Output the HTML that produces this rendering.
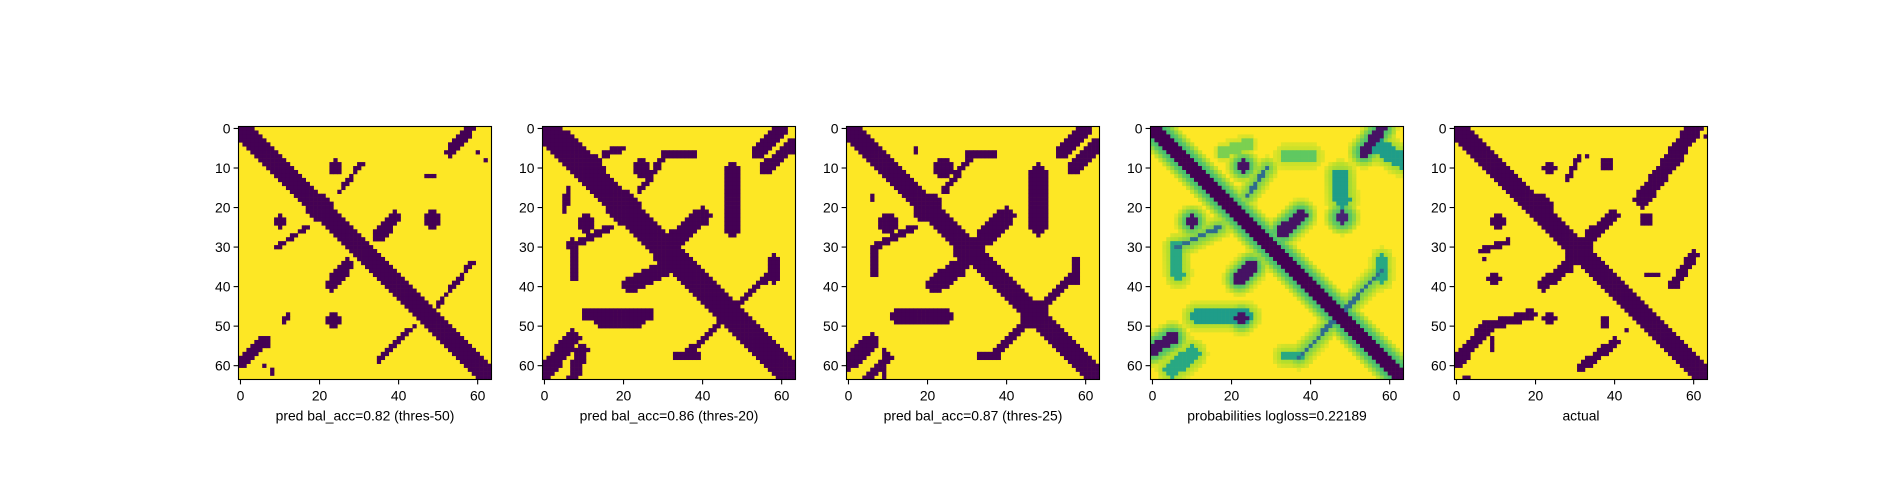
<!DOCTYPE html>
<html><head><meta charset="utf-8"><style>
html,body{margin:0;padding:0;background:#fff;}
svg{display:block;font-family:"Liberation Sans","DejaVu Sans",sans-serif;}
</style></head><body>
<svg id="fig" width="1900" height="500" viewBox="0 0 1900 500" xmlns="http://www.w3.org/2000/svg">
<rect x="0" y="0" width="1900" height="500" fill="#fff"/>
</svg>
<script>
// ---- data (cell coordinates: row, col) ----
const titles = ["pred bal_acc=0.82 (thres-50)", "pred bal_acc=0.86 (thres-20)", "pred bal_acc=0.87 (thres-25)", "probabilities logloss=0.22189", "actual"];
const xTicks = [0, 20, 40, 60];
const yTicks = [0, 10, 20, 30, 40, 50, 60];
const gridN = 64;
// binary features: [r0, c0, r1, c1, halfWidth]
const feat1 = [
 [0,0,63,63,2.3],[20,20,20,20,3.4],
 [0,58,6,53,1.3],[6,60,6,60,0.5],[8,62,8,62,0.5],
 [9.7,24,9.7,24,1.8],[16,25,9,30.5,0.6],[12,47,12,49,0.5],
 [27,35,22.5,39,1.6],[23,48.5,23,48.5,2.1],[23.5,10,23.5,10,1.7],
 [30,9.5,25,16.5,0.6],[39.5,23,34.5,27,1.7],[44.5,50,34,58.5,0.6],
 [48.5,23.5,48.5,23.5,2.0],[47,12,49,11,0.5],[49.5,44.5,58.5,35,0.65],
 [59,0,53.5,6.5,1.5],[60,6,60,6,0.5],[61.5,8,61.5,8,0.5]
];
const feat2 = [
 [0,0,63,63,2.9],[3,4,10,12,3.0],[20,20,20,20,4.2],[31,31,31,31,3.8],[47,47,47,47,3.2],
 [16,24,6,31,0.8],[6.5,30,6.5,37.5,0.9],[8.5,36.5,8.5,36.5,0.6],
 [6.5,15,5,20,0.9],[10,24.5,10,24.5,2.4],[11,47.5,25,47.5,2.3],
 [0,60,6,54,1.8],[4,63,10,56,1.6],[15,6,20.5,5,0.8],[24,10.5,24,10.5,2.4],
 [30,6,25,17,0.9],[29,7,38,7.5,1.1],[39.5,22,34,33,2.2],[28,33,22,40,2.2],
 [47,11,47,26,1.7],[49,14,49,24,1.3],[58,35,36,58,0.8],[57.5,33.5,57.5,39,1.0],
 [33,58,38,58,1.0],[62,0,53,7,2.0],[64,7,56,9.5,1.5]
];
const feat3 = [
 [0,0,63,63,2.8],[20,20,20,20,3.8],[31,30,31,30,3.3],[47,47,47,47,3.2],
 [16,24,7,31,0.8],[6.5,30,6.5,37,0.9],[5.5,17,5.5,17,0.5],[10,24,10,24,2.3],
 [11,48,25,48,2.1],[0,60,6,54,1.8],[4,63,10,57,1.6],[17.5,6,17.5,6,0.6],
 [24,10,24,10,2.4],[30,6,25,17,0.9],[30,6.5,37,6.5,1.0],[39.5,22,35,28,2.2],
 [28,34,22,40,2.2],[47.5,12,47.5,25,1.8],[57,37,36,58,0.8],[57.5,33,57.5,38,1.0],
 [33,57.5,39,57.5,1.0],[59.5,0,53.5,6,1.8],[63,5,58,10,1.4],[56,9,63,9,0.6]
];
const feat5 = [
 [0,0,63,63,2.3],[20,21,20,21,3.3],[31,31,31,31,3.7],[47,47,47,47,2.8],
 [0,60,18,47,2.0],[8,56,8,56,1.0],[2,63,2,63,0.5],[10,23.5,10,23.5,1.7],
 [7,31,13,28,0.7],[7,33,7,33,0.5],[9,38,9,38,1.9],[23.5,10.5,23.5,10.5,1.7],
 [23,48,23,48,1.7],[31,6.5,28.5,13,0.8],[38,9.5,38,9.5,1.6],[33,7,33,7,0.5],
 [39.5,22,35,28,1.5],[27,34,22,39.5,1.5],[39.5,55,32,60,1.3],[37,48,37,50.5,0.5],
 [59,0,50,8,1.6],[50,8,47,19,1.3],[53,9,56,9,0.6],[48,23.5,48,23.5,1.6],
 [48,37.5,50,37.5,0.5],[51,43,51,43,0.5],[60.5,31.5,54,40,1.2],[63,2.5,63,2.5,0.5]
];
// probability features: [r0, c0, r1, c1, halfWidth, level]
const featP = [
 [0,0,63,63,2.0,1],[9.5,23,9.5,23,1.5,0.95],[17,24,10,29,0.5,0.65],
 [6,53.5,0,58,1.3,0.95],[4,56,8,63,2.0,0.45],[12,47.5,18,48,2.0,0.45],
 [22.5,48,22.5,48,1.8,0.9],[23.5,10,23.5,10,1.5,0.95],[30,6.5,25,17,0.5,0.65],
 [30,6,37,6.5,1.5,0.4],[38,22,35,25,1.5,0.95],[26,33,22,37.5,1.5,0.95],
 [47.5,11,47.5,24,1.5,0.45],[48,22.5,48,22.5,1.5,0.95],[56,0,53,5,1.5,0.95],
 [61,5,57,10,2.0,0.4],[58,37,36,58,0.5,0.65],[57.5,33.5,57.5,38,1.0,0.4],
 [33,58,38,58,1.0,0.4],[6,18,4,24,1.5,0.2],[7,34,7,40,1.8,0.25]
];
const panelFeatures = [feat1, feat2, feat3, featP, feat5];
const panelKinds = ["binary","binary","binary","prob","binary"];

// ---- layout ----
const NS = "http://www.w3.org/2000/svg";
const svg = document.getElementById("fig");
const panelLeft = [238.5, 542.5, 846.5, 1150.5, 1454.5];
const top0 = 126.5, size = 253, cell = size / gridN;
const DARK = "#440154", YEL = "#fde725";
const vir = [[68,1,84],[72,40,120],[62,74,137],[49,104,142],[38,130,142],[31,158,137],[53,183,121],[109,205,89],[180,222,44],[253,231,37]];
function viridis(t){t=Math.max(0,Math.min(1,t));const s=t*(vir.length-1);const i=Math.min(Math.floor(s),vir.length-2);const f=s-i;
 const c=vir[i].map((v,k)=>Math.round(v+(vir[i+1][k]-v)*f));return "rgb("+c.join(",")+")";}
function segDist(r,c,f){const [r0,c0,r1,c1]=f;const dr=r1-r0,dc=c1-c0;const L=dr*dr+dc*dc;let t=L?((r-r0)*dr+(c-c0)*dc)/L:0;t=Math.max(0,Math.min(1,t));
 const pr=r0+t*dr-r,pc=c0+t*dc-c;return Math.sqrt(pr*pr+pc*pc);}
function el(tag,attrs,parent){const e=document.createElementNS(NS,tag);for(const k in attrs)e.setAttribute(k,attrs[k]);parent.appendChild(e);return e;}

panelFeatures.forEach((feats,pi)=>{
 const x0=panelLeft[pi];
 const g=el("g",{},svg);
 
 
 const bg=el("rect",{x:x0,y:top0,width:size,height:size,fill:YEL},g);
 
 
 for(let r=0;r<gridN;r++){for(let c=0;c<gridN;c++){
  let fill=null;
  if(panelKinds[pi]==="binary"){
   for(const f of feats){if(segDist(r,c,f)<=f[4]){fill=DARK;break;}}
  } else {
   let p=0;
   for(const f of feats){const d=segDist(r,c,f);const hw=f[4],lv=f[5];
    let v=d<=hw?lv:lv*0.3*Math.exp(-((d-hw)*(d-hw))/4.0);if(v>p)p=v;}
   if(p>0.04)fill=viridis(1-p);
  }
  if(fill){const rc=el("rect",{x:(x0+c*cell).toFixed(2),y:(top0+r*cell).toFixed(2),width:(cell+0.3).toFixed(2),height:(cell+0.3).toFixed(2),fill:fill},g);
   
   }
 }}
 const fr=el("rect",{x:x0,y:top0,width:size,height:size,fill:"none",stroke:"#000","stroke-width":1.1},g);
 
 
 xTicks.forEach(v=>{const x=x0+(v+0.5)*cell;
  const tl=el("line",{x1:x,x2:x,y1:top0+size,y2:top0+size+4.9,stroke:"#000","stroke-width":1.1},g);
  
  
  const t=el("text",{x:x,y:top0+size+21,"text-anchor":"middle","font-size":"13.9px",fill:"#000"},g);t.textContent=v;
  
  });
 yTicks.forEach(v=>{const y=top0+(v+0.5)*cell;
  const tl=el("line",{x1:x0-4.9,x2:x0,y1:y,y2:y,stroke:"#000","stroke-width":1.1},g);
  
  
  const t=el("text",{x:x0-8,y:y+5,"text-anchor":"end","font-size":"13.9px",fill:"#000"},g);t.textContent=v;
  
  });
 const xl=el("text",{x:x0+size/2,y:top0+size+41,"text-anchor":"middle","font-size":"13.9px",fill:"#000"},g);xl.textContent=titles[pi];
 
 
});
</script>
</body></html>
